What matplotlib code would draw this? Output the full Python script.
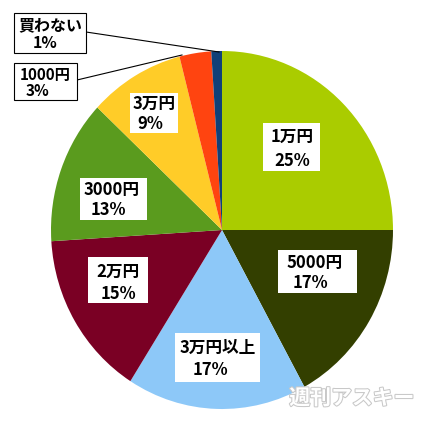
import matplotlib.pyplot as plt
import matplotlib.patheffects as pe
from matplotlib.patches import Rectangle

plt.rcParams['font.family'] = ['Noto Sans CJK JP', 'DejaVu Sans']

categories = ['1万円', '5000円', '3万円以上', '2万円', '3000円', '3万円', '1000円', '買わない']
shares = [25, 17, 17, 15, 13, 9, 3, 1]
colors = ['#AACC00', '#333F00', '#8DC8F8', '#7A0024', '#5A9B1E', '#FFCC28', '#FF4410', '#104078']

# pixel layout of the picture
W = 429
cx, cy, rx, ry = 222, 230, 171, 179


def px(x, y):
    return (x - cx) / rx, (cy - y) / ry


fig = plt.figure(figsize=(W / 100, W / 100), dpi=100)
ax = fig.add_axes([0, 0, 1, 1])
ax.pie(shares, colors=colors, startangle=90, counterclock=False,
       wedgeprops=dict(linewidth=0))
ax.set_aspect('auto')
ax.set_xlim(-cx / rx, (W - cx) / rx)
ax.set_ylim(-(W - cy) / ry, cy / ry)
ax.axis('off')

# label boxes: (left, top, right, bottom), line1 centre, line2 centre, border, font size
boxes = {
    '1万円': ((263, 123, 320, 171), (292, 137), (292, 161), False, 12),
    '5000円': ((278, 250, 357, 293), (315, 263), (310, 283), False, 12),
    '3万円以上': ((175, 333, 260, 382), (218, 348), (210, 370), False, 12),
    '2万円': ((88, 257, 148, 303), (118, 272), (118, 294), False, 12),
    '3000円': ((80, 178, 147, 220), (112, 190), (108, 210), False, 12),
    '3万円': ((130, 93, 178, 133), (154, 104), (150, 124), False, 12),
    '1000円': ((14, 63, 77, 100), (45, 75), (38, 91), True, 11),
    '買わない': ((14, 13, 86, 53), (50, 25), (45, 43), True, 11.5),
}

# leader lines for the small slices
ax.plot(*zip(px(77, 80), px(182, 55)), color='black', lw=0.8)
ax.plot(*zip(px(86, 32), px(219, 52)), color='black', lw=0.8)

for name, share in zip(categories, shares):
    (l, t, r, b), p1, p2, border, fs = boxes[name]
    x0, y0 = px(l, b)
    x1, y1 = px(r, t)
    ax.add_patch(Rectangle((x0, y0), x1 - x0, y1 - y0, facecolor='white',
                           edgecolor='black' if border else 'none', lw=0.8, zorder=3))
    ax.text(*px(*p1), name, ha='center', va='center', fontsize=fs,
            fontweight='bold', zorder=4)
    ax.text(*px(*p2), f'{share}%', ha='center', va='center', fontsize=fs,
            fontweight='bold', zorder=4)

ax.text(*px(352, 398), '週刊アスキー', ha='center', va='center', fontsize=15,
        fontweight='bold', color='white', zorder=5,
        path_effects=[pe.withStroke(linewidth=1.5, foreground='#C8C8C8')])

fig.savefig('out.png', dpi=100)
